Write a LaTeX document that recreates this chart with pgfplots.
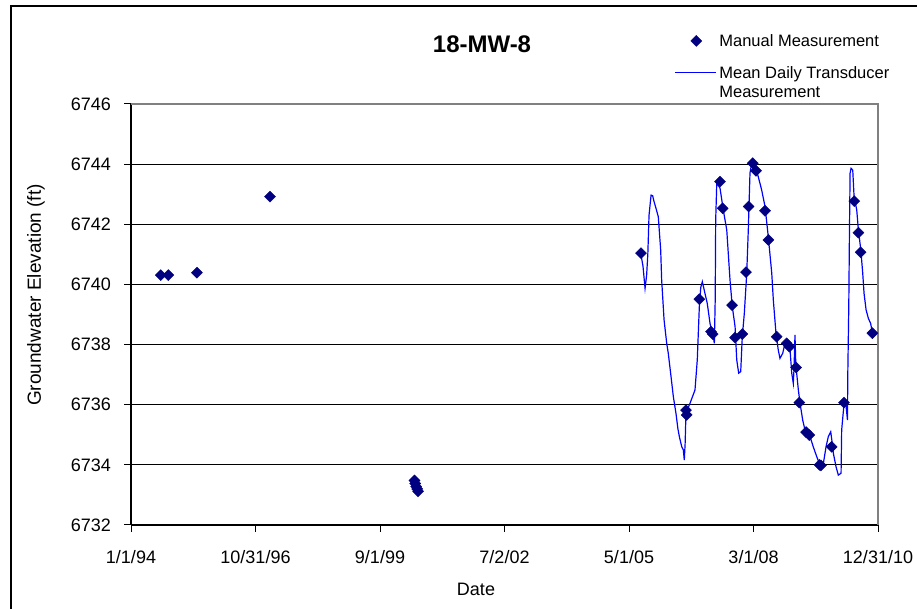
\documentclass[border=0pt]{standalone}
\usepackage{pgfplots}
\usepackage{pgfplotstable}
\pgfplotsset{compat=1.18}
\usepackage{fontspec}
\setmainfont{Liberation Sans}

\definecolor{navy}{RGB}{0,0,128}
\definecolor{tblue}{RGB}{0,0,255}

% days since 1/1/94, groundwater elevation (ft)
\pgfplotstableread{
day elev
247 6740.31
310 6740.31
548 6740.39
1155 6742.92
2356 6733.48
2362 6733.38
2370 6733.28
2378 6733.20
2386 6733.12
4238 6741.04
4612 6735.82
4618 6735.66
4723 6739.51
4820 6738.43
4834 6738.35
4895 6743.42
4917 6742.53
4995 6739.31
5020 6738.23
5080 6738.35
5111 6740.41
5133 6742.59
5167 6744.03
5194 6743.78
5269 6742.45
5297 6741.48
5366 6738.26
5449 6738.04
5471 6737.93
5527 6737.24
5554 6736.07
5610 6735.09
5637 6734.99
5722 6734.00
5734 6733.98
5823 6734.60
5925 6736.07
6011 6742.77
6045 6741.72
6064 6741.07
6161 6738.38
}\manual

\pgfplotstableread{
day elev
4238 6741.00
4255 6740.60
4272 6739.87
4285 6740.30
4295 6741.00
4305 6742.30
4322 6742.97
4335 6742.95
4347 6742.75
4365 6742.50
4382 6742.25
4402 6741.14
4410 6740.15
4430 6738.82
4452 6738.04
4465 6737.71
4488 6736.93
4507 6736.27
4529 6735.71
4545 6735.20
4557 6734.94
4577 6734.60
4590 6734.50
4598 6734.16
4605 6734.70
4612 6735.73
4646 6736.05
4687 6736.49
4706 6737.49
4723 6739.26
4735 6739.90
4748 6740.09
4770 6739.70
4789 6739.37
4812 6738.70
4839 6738.26
4848 6738.04
4855 6739.50
4859 6742.14
4868 6743.37
4880 6743.30
4895 6743.20
4922 6742.48
4951 6741.81
4978 6740.15
4997 6739.26
5020 6738.60
5034 6737.49
5050 6737.05
5067 6737.10
5080 6738.26
5097 6739.04
5117 6740.37
5130 6741.81
5144 6743.70
5158 6744.03
5186 6743.92
5213 6743.58
5241 6743.14
5269 6742.59
5296 6741.59
5325 6740.37
5338 6739.48
5360 6738.38
5379 6737.82
5393 6737.54
5416 6737.71
5435 6738.04
5460 6738.10
5477 6737.82
5491 6737.05
5504 6736.71
5510 6737.20
5518 6738.32
5525 6737.30
5532 6737.05
5546 6736.49
5560 6736.05
5582 6735.49
5601 6735.16
5643 6734.94
5670 6734.60
5699 6734.27
5726 6734.00
5754 6734.05
5776 6734.60
5795 6734.94
5815 6735.10
5825 6734.80
5837 6734.38
5859 6733.94
5878 6733.66
5901 6733.72
5906 6735.16
5926 6736.05
5943 6735.94
5954 6735.49
5957 6737.05
5965 6739.26
5970 6741.48
5976 6743.70
5984 6743.86
5998 6743.80
6009 6742.92
6031 6742.48
6045 6741.81
6065 6741.15
6081 6740.37
6092 6739.70
6109 6739.15
6128 6738.87
6147 6738.70
6161 6738.38
}\transducer

\begin{document}
\begin{tikzpicture}[x=1bp,y=1bp]
\useasboundingbox (0,0) rectangle (917,609);
% chart area frame (only left and top edges fall inside the picture)
\draw[line width=1.2bp] (11,-20) -- (11,603) -- (940,603);

\begin{axis}[
  at={(131bp,84bp)}, anchor=south west,
  scale only axis, width=747bp, height=421bp,
  xmin=0, xmax=6208, ymin=6732, ymax=6746,
  axis x line*=bottom, axis y line*=left,
  axis line style={line width=1.5bp, black, -},
  xtick={0,1034.67,2069.33,3104,4138.67,5173.33,6208},
  xticklabels={1/1/94,10/31/96,9/1/99,7/2/02,5/1/05,3/1/08,12/31/10},
  ytick={6732,6734,6736,6738,6740,6742,6744,6746},
  tick align=outside, major tick length=7bp,
  tick style={black, line width=1bp},
  ymajorgrids, major grid style={black, line width=1bp},
  /pgf/number format/.cd, 1000 sep={}, assume math mode=true, /pgfplots/.cd,
  yticklabel style={font=\fontsize{18bp}{21bp}\selectfont, anchor=east, inner sep=0pt, xshift=-13bp},
  xticklabel style={font=\fontsize{18bp}{21bp}\selectfont, anchor=north, inner sep=0pt, yshift=-18bp},
  legend image code/.code={\draw[mark repeat=2,mark phase=2,#1] plot coordinates {(0bp,0bp)(19.5bp,0bp)(39bp,0bp)};},
  legend style={draw=none, fill=none, inner sep=0pt, anchor=north west,
    at={(axis description cs:0.7269,1.1734)},
    font=\fontsize{16.5bp}{18.5bp}\selectfont,
    nodes={align=left, inner sep=3bp}, row sep=13bp},
  legend cell align=left,
  clip=false,
]
\addlegendimage{only marks, mark=square*, mark size=3.9bp, mark options={rotate=45, draw=navy, fill=navy}}
\addlegendentry{Manual Measurement}
\addlegendimage{no marks,
  legend image code/.code={\draw[draw={rgb,255:red,0;green,0;blue,255}, line width=1.2bp] (-2bp,10bp) -- (39bp,10bp);}}
\addlegendentry{Mean Daily Transducer\\Measurement}

\addplot[tblue, line width=1.2bp, no marks, forget plot] table[x=day, y=elev] {\transducer};
\addplot[only marks, mark=square*, mark size=3.9bp, mark options={rotate=45, draw=navy, fill=navy}, forget plot] table[x=day, y=elev] {\manual};

\draw[gray, line width=1.5bp] (rel axis cs:0,1) -- (rel axis cs:1,1) -- (rel axis cs:1,0);
\end{axis}

\node[font=\bfseries\fontsize{24bp}{28bp}\selectfont] at (482,565) {18-MW-8};
\node[rotate=90, font=\fontsize{19bp}{22bp}\selectfont] at (36,314) {Groundwater Elevation (ft)};
\node[font=\fontsize{18bp}{21bp}\selectfont] at (476,20) {Date};
\end{tikzpicture}
\end{document}
